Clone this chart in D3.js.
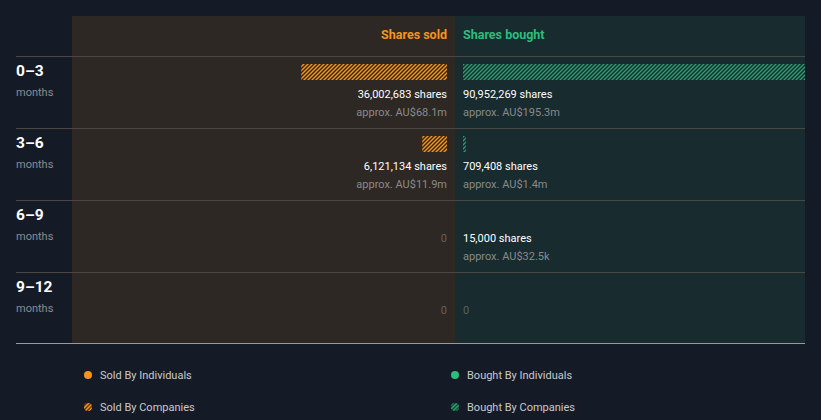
<!DOCTYPE html>
<html><head><meta charset="utf-8">
<script src="https://cdn.jsdelivr.net/npm/d3@7"></script>
<style>
html,body{margin:0;padding:0;background:#151b26;}
svg{display:block;font-family:Roboto,"Noto Sans",sans-serif;}
</style></head>
<body><svg id="c" width="821" height="420"></svg>
<script>
const periods = ["0–3","3–6","6–9","9–12"];
const soldShares = [36002683, 6121134, 0, 0];
const soldValue = ["AU$68.1m","AU$11.9m",null,null];
const boughtShares = [90952269, 709408, 15000, 0];
const boughtValue = ["AU$195.3m","AU$1.4m","AU$32.5k",null];
const soldCompanies = [true, true, false, false];
const boughtCompanies = [true, true, false, false];
const legendItems = ["Sold By Individuals","Bought By Individuals","Sold By Companies","Bought By Companies"];

const orange = "#f7931e", green = "#2ebd7d";
const svg = d3.select("#c");
const defs = svg.append("defs");
function hatch(id, color, sw){
  const p = defs.append("pattern").attr("id",id).attr("patternUnits","userSpaceOnUse")
    .attr("width",4).attr("height",4);
  p.append("path").attr("d","M-1,1 l2,-2 M0,4 l4,-4 M3,5 l2,-2")
    .attr("stroke",color).attr("stroke-width",sw).attr("fill","none");
}
hatch("hs", "#ff9410", 1.4);
hatch("hb", "#2a9e6e", 1.4);
defs.append("clipPath").attr("id","clipB").append("rect").attr("x",455).attr("y",16).attr("width",350).attr("height",327);

const midX = 455, leftX = 72, rightX = 805;
svg.append("rect").attr("x",leftX).attr("y",16).attr("width",midX-leftX).attr("height",327).attr("fill","#2d2823");
svg.append("rect").attr("x",midX).attr("y",16).attr("width",rightX-midX).attr("height",327).attr("fill","#182b2f");

const y = d3.scaleBand().domain(periods).range([56,344]).paddingInner(0).paddingOuter(0);
const maxV = d3.max(soldShares.concat(boughtShares));
const x = d3.scaleLinear().domain([0,maxV]).range([0,368]);

svg.append("text").attr("x",447).attr("y",39).attr("text-anchor","end").attr("fill",orange)
  .attr("font-size",12.5).attr("font-weight",700).text("Shares sold");
svg.append("text").attr("x",463).attr("y",39).attr("fill",green)
  .attr("font-size",12.5).attr("font-weight",700).text("Shares bought");

periods.forEach(p=>{
  svg.append("line").attr("x1",16).attr("x2",rightX).attr("y1",y(p)+0.5).attr("y2",y(p)+0.5)
    .attr("stroke","#4a4744").attr("stroke-width",1);
});
svg.append("line").attr("x1",16).attr("x2",rightX).attr("y1",343.5).attr("y2",343.5)
  .attr("stroke","#9a9a9a").attr("stroke-width",1);

const fmt = d3.format(",");
periods.forEach((p,i)=>{
  const r = y(p);
  svg.append("text").attr("x",16).attr("y",r+20).attr("fill","#ffffff").attr("font-size",15.5).attr("font-weight",700).text(p);
  svg.append("text").attr("x",16).attr("y",r+40).attr("fill","#8a8d92").attr("font-size",11).text("months");
  if (soldShares[i]>0){
    const w = x(soldShares[i]);
    svg.append("rect").attr("x",447-w).attr("y",r+8).attr("width",w).attr("height",16).attr("fill","url(#hs)");
    svg.append("text").attr("x",447).attr("y",r+42).attr("text-anchor","end").attr("fill","#ffffff").attr("font-size",11).text(fmt(soldShares[i])+" shares");
    svg.append("text").attr("x",447).attr("y",r+60).attr("text-anchor","end").attr("fill","#8a8a8a").attr("font-size",11).text("approx. "+soldValue[i]);
  } else {
    svg.append("text").attr("x",447).attr("y",r+42).attr("text-anchor","end").attr("fill","#66625d").attr("font-size",11).text("0");
  }
  if (boughtShares[i]>0){
    if (boughtCompanies[i]){
      const w = Math.max(x(boughtShares[i]),2);
      svg.append("rect").attr("x",463).attr("y",r+8).attr("width",w).attr("height",16).attr("fill","url(#hb)").attr("clip-path","url(#clipB)");
    }
    svg.append("text").attr("x",463).attr("y",r+42).attr("fill","#ffffff").attr("font-size",11).text(fmt(boughtShares[i])+" shares");
    svg.append("text").attr("x",463).attr("y",r+60).attr("fill","#8a8a8a").attr("font-size",11).text("approx. "+boughtValue[i]);
  } else {
    svg.append("text").attr("x",463).attr("y",r+42).attr("fill","#58625f").attr("font-size",11).text("0");
  }
});

const lx = [88,455], ly=[375,407];
legendItems.forEach((t,i)=>{
  const cx = lx[i%2], cy = ly[Math.floor(i/2)];
  const col = i%2===0?orange:green;
  if (i<2){
    svg.append("circle").attr("cx",cx).attr("cy",cy).attr("r",4).attr("fill",col);
  } else {
    const id = "lg"+i;
    const cp = defs.append("clipPath").attr("id",id);
    cp.append("circle").attr("cx",cx).attr("cy",cy).attr("r",4);
    svg.append("circle").attr("cx",cx).attr("cy",cy).attr("r",4).attr("fill",i===2?"#5a3a12":"#174a35");
    svg.append("rect").attr("x",cx-5).attr("y",cy-5).attr("width",10).attr("height",10)
      .attr("fill",i===2?"url(#hs)":"url(#hb)").attr("clip-path","url(#"+id+")");
  }
  svg.append("text").attr("x",cx+12).attr("y",cy+4).attr("fill","#c8cacc").attr("font-size",11).text(t);
});
</script></body></html>
